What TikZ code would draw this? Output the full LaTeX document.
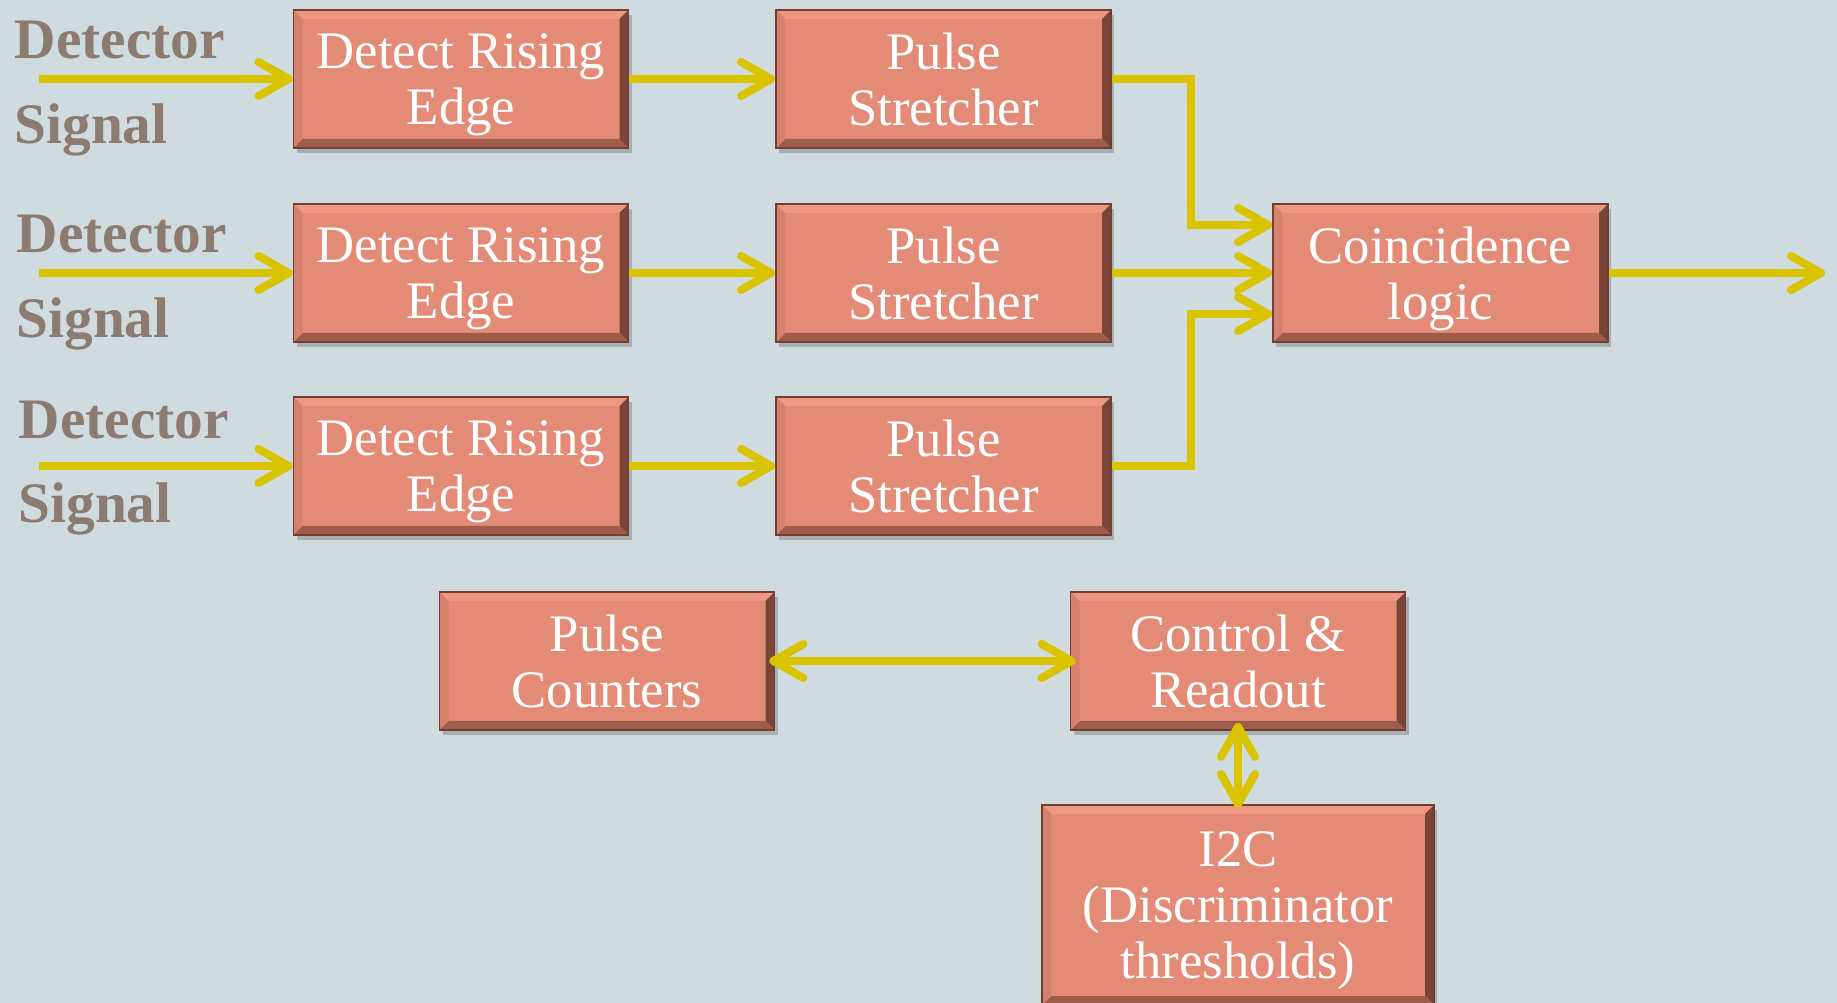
\documentclass[tikz,border=0pt]{standalone}
\usepackage{fontspec}
\setmainfont{Liberation Serif}
\usetikzlibrary{arrows.meta, positioning, shadows}

\definecolor{bgblue}{RGB}{207,219,223}
\definecolor{boxface}{RGB}{227,139,118}
\definecolor{boxtop}{RGB}{238,152,130}
\definecolor{boxleft}{RGB}{214,129,109}
\definecolor{boxright}{RGB}{122,68,54}
\definecolor{boxbottom}{RGB}{160,92,74}
\definecolor{boxedge}{RGB}{112,62,50}
\definecolor{wireyellow}{RGB}{218,195,0}
\definecolor{lblgray}{RGB}{140,123,112}

\def\bv{0.09cm}
\tikzset{
  block/.style={minimum width=3.35cm, minimum height=1.38cm, inner sep=0pt, align=center,
    fill=boxface, draw=boxedge, line width=0.5pt, text=white, text depth=0pt,
    font=\fontsize{15}{16}\selectfont,
    drop shadow={shadow xshift=0.03cm, shadow yshift=-0.05cm, opacity=0.3, fill=black!70},
    path picture={
      \path (path picture bounding box.north west) coordinate (bnw) ++(\bv,-\bv) coordinate (inw)
            (path picture bounding box.north east) coordinate (bne) ++(-\bv,-\bv) coordinate (ine)
            (path picture bounding box.south east) coordinate (bse) ++(-\bv,\bv) coordinate (ise)
            (path picture bounding box.south west) coordinate (bsw) ++(\bv,\bv) coordinate (isw);
      \fill[boxtop] (bnw) -- (bne) -- (ine) -- (inw) -- cycle;
      \fill[boxright] (bne) -- (bse) -- (ise) -- (ine) -- cycle;
      \fill[boxbottom] (bse) -- (bsw) -- (isw) -- (ise) -- cycle;
      \fill[boxleft] (bsw) -- (bnw) -- (inw) -- (isw) -- cycle;
    }},
  lbl/.style={text=lblgray, font=\fontsize{16.3}{18}\selectfont\bfseries, inner sep=0pt, anchor=base west},
  sig/.style={draw=wireyellow, line width=2.3pt,
    -{Straight Barb[length=3mm, width=3.4mm, round]}},
  sigboth/.style={draw=wireyellow, line width=2.3pt, shorten <=-0.06cm, shorten >=-0.06cm,
    {Straight Barb[length=3mm, width=3.4mm, round]}-{Straight Barb[length=3mm, width=3.4mm, round]}}
}

\begin{document}
\begin{tikzpicture}
% background
\fill[bgblue, use as bounding box] (0,0) rectangle (18.37,-10.03);
% Three detector channels
\foreach \i/\y/\lx/\ty/\by in {1/-0.79/0.14/-0.59/-1.44, 2/-2.73/0.16/-2.53/-3.38, 3/-4.66/0.18/-4.39/-5.23} {
  \coordinate (in\i) at (0.39,\y);
  \node[lbl] (lbltop\i) at (\lx,\ty) {Detector};
  \node[lbl] (lblbot\i) at (\lx,\by) {Signal};
  \node[block] (dre\i) at (4.61,\y) {Detect Rising\\Edge};
  \node[block] (ps\i) at (9.435,\y) {Pulse\\Stretcher};
  \draw[sig] (in\i) -- (dre\i);
  \draw[sig] (dre\i) -- (ps\i);
}
% Coincidence
\node[block] (coin) at (14.405,-2.73) {Coincidence\\logic};
\draw[sig] (ps1.east) -- ++(0.79,0) |- ([yshift=0.48cm]coin.west);
\draw[sig] (ps2) -- (coin);
\draw[sig] (ps3.east) -- ++(0.79,0) |- ([yshift=-0.41cm]coin.west);
\coordinate (out) at (18.25,-2.73);
\draw[sig] (coin) -- (out);
% Counters and readout
\node[block] (pc) at (6.07,-6.61) {Pulse\\Counters};
\node[block] (cr) at (12.38,-6.61) {Control \&\\Readout};
\node[block, minimum width=3.92cm, minimum height=2.0cm] (i2c) at (12.38,-9.05) {I2C\\(Discriminator\\thresholds)};
\draw[sigboth] (pc) -- (cr);
\draw[sigboth, shorten <=-0.08cm, shorten >=-0.04cm] (cr) -- (i2c);
\end{tikzpicture}
\end{document}
